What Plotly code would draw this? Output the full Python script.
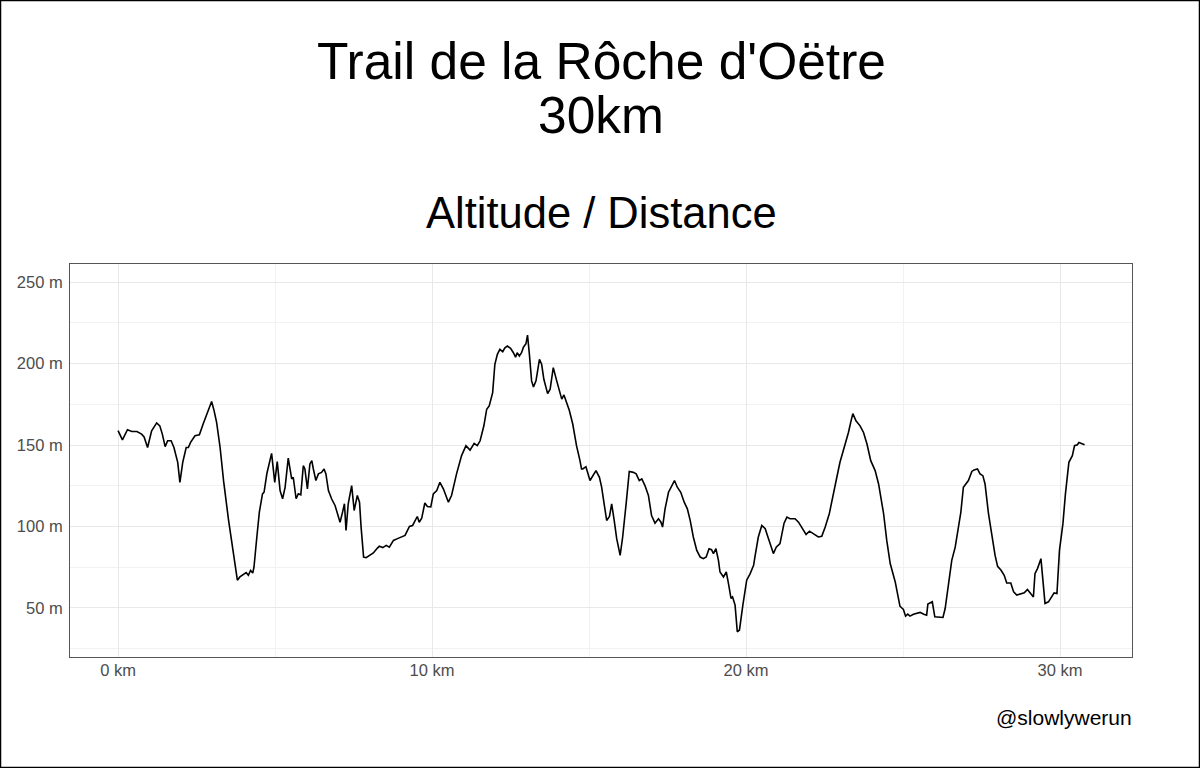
import plotly.graph_objects as go

distance_km = [
    0.00, 0.14, 0.30, 0.44, 0.60, 0.75, 0.83, 0.94, 1.07, 1.23, 1.33, 1.41, 1.50, 1.58, 1.69, 1.78,
    1.90, 1.97, 2.06, 2.17, 2.24, 2.31, 2.45, 2.59, 2.71, 2.84, 2.98, 3.06, 3.14, 3.25, 3.36, 3.52,
    3.65, 3.80, 3.88, 3.99, 4.08, 4.15, 4.22, 4.29, 4.33, 4.42, 4.50, 4.60, 4.65, 4.74, 4.82, 4.89,
    4.99, 5.07, 5.16, 5.24, 5.32, 5.42, 5.53, 5.58, 5.67, 5.74, 5.82, 5.90, 5.95, 6.03, 6.11, 6.17,
    6.22, 6.30, 6.38, 6.48, 6.56, 6.62, 6.70, 6.80, 6.91, 6.98, 7.07, 7.15, 7.21, 7.26, 7.33, 7.44,
    7.52, 7.62, 7.69, 7.74, 7.82, 7.90, 8.03, 8.13, 8.26, 8.32, 8.43, 8.54, 8.64, 8.77, 8.90, 9.03,
    9.14, 9.28, 9.38, 9.53, 9.59, 9.67, 9.77, 9.85, 9.96, 10.04, 10.15, 10.25, 10.36, 10.52, 10.62,
    10.78, 10.94, 11.08, 11.21, 11.34, 11.44, 11.53, 11.65, 11.74, 11.82, 11.93, 12.00, 12.08, 12.16,
    12.25, 12.32, 12.40, 12.50, 12.59, 12.66, 12.71, 12.78, 12.85, 12.91, 12.99, 13.04, 13.10, 13.17,
    13.23, 13.31, 13.42, 13.49, 13.56, 13.68, 13.76, 13.86, 13.97, 14.08, 14.13, 14.20, 14.29, 14.37,
    14.48, 14.60, 14.71, 14.76, 14.80, 14.90, 15.03, 15.13, 15.22, 15.33, 15.40, 15.48, 15.56, 15.65,
    15.72, 15.80, 15.88, 15.99, 16.07, 16.18, 16.28, 16.41, 16.50, 16.60, 16.68, 16.78, 16.89, 16.99,
    17.10, 17.21, 17.29, 17.34, 17.42, 17.53, 17.63, 17.72, 17.81, 17.92, 18.03, 18.13, 18.22, 18.32,
    18.43, 18.54, 18.64, 18.73, 18.82, 18.90, 18.96, 19.04, 19.12, 19.17, 19.28, 19.37, 19.44, 19.52,
    19.57, 19.65, 19.72, 19.79, 19.90, 20.02, 20.13, 20.24, 20.29, 20.39, 20.50, 20.61, 20.68, 20.79,
    20.87, 20.96, 21.08, 21.21, 21.30, 21.40, 21.56, 21.67, 21.80, 21.91, 22.02, 22.14, 22.30, 22.41,
    22.52, 22.65, 22.76, 22.89, 22.99, 23.12, 23.26, 23.33, 23.40, 23.50, 23.63, 23.74, 23.85, 23.97,
    24.11, 24.22, 24.38, 24.48, 24.59, 24.75, 24.82, 24.90, 25.01, 25.08, 25.15, 25.22, 25.33, 25.44,
    25.54, 25.66, 25.75, 25.79, 25.93, 26.01, 26.12, 26.27, 26.34, 26.44, 26.55, 26.66, 26.76, 26.84,
    26.92, 27.01, 27.08, 27.19, 27.26, 27.37, 27.45, 27.54, 27.61, 27.72, 27.83, 27.93, 28.01, 28.12,
    28.22, 28.30, 28.43, 28.52, 28.62, 28.75, 28.86, 28.96, 29.05, 29.15, 29.20, 29.28, 29.39, 29.45,
    29.52, 29.63, 29.74, 29.81, 29.90, 29.98, 30.09, 30.17, 30.28, 30.39, 30.46, 30.55, 30.60, 30.71,
    30.78,
]

altitude_m = [
    158.8, 153.2, 159.4, 158.3, 158.3, 156.7, 155.0, 148.5, 158.8, 163.6, 161.8, 156.7, 149.0, 152.6, 152.6, 148.5,
    139.4, 127.1, 139.4, 148.5, 148.5, 151.6, 155.7, 156.3, 162.9, 170.0, 176.7, 171.0, 163.8, 148.5, 128.1, 103.7,
    87.3, 67.0, 69.0, 70.4, 71.7, 70.0, 73.0, 71.4, 75.1, 93.5, 108.8, 120.0, 121.0, 132.5, 139.4, 144.9,
    127.1, 139.8, 122.0, 117.0, 124.0, 142.0, 129.2, 130.2, 117.0, 120.0, 119.4, 137.3, 135.3, 123.1, 138.4, 140.4,
    135.3, 128.2, 132.3, 133.2, 135.3, 132.3, 122.0, 117.0, 112.9, 108.8, 102.6, 108.8, 113.9, 97.5, 113.9, 125.1,
    109.8, 119.0, 114.9, 99.6, 81.2, 80.8, 82.2, 83.7, 86.7, 87.8, 87.0, 88.4, 87.3, 91.4, 92.5, 93.5,
    94.5, 100.0, 100.6, 106.1, 102.6, 105.0, 114.4, 112.2, 112.0, 120.0, 122.0, 127.1, 123.1, 114.9, 119.0,
    132.3, 143.5, 149.6, 146.9, 151.0, 149.6, 152.6, 161.8, 172.0, 174.0, 182.2, 199.6, 205.7, 208.8,
    207.3, 209.7, 210.8, 209.4, 206.7, 204.0, 206.7, 204.7, 206.7, 210.1, 212.2, 217.5, 205.7, 189.4,
    185.7, 189.4, 202.6, 199.6, 190.4, 181.6, 184.3, 197.5, 189.4, 181.2, 178.2, 180.8, 176.1, 171.4,
    162.9, 149.6, 140.4, 135.3, 135.3, 136.7, 128.2, 131.2, 134.3, 130.2, 124.1, 113.9, 103.7, 106.1,
    113.9, 103.7, 92.5, 82.2, 93.5, 113.9, 133.8, 133.2, 132.3, 128.2, 129.2, 125.1, 119.0, 106.7,
    102.0, 104.7, 102.6, 99.6, 110.8, 121.0, 125.1, 128.2, 124.1, 121.0, 114.9, 110.8, 103.7, 93.5,
    85.3, 81.2, 80.2, 81.2, 86.3, 85.7, 83.3, 86.3, 79.2, 72.0, 69.0, 72.0, 64.9, 55.8,
    56.7, 51.7, 35.3, 36.4, 52.0, 67.0, 71.0, 76.1, 82.2, 93.5, 100.6, 98.6, 94.5, 87.3,
    83.3, 87.3, 89.4, 102.0, 105.7, 104.7, 104.7, 102.6, 98.6, 95.1, 97.1, 95.5, 93.5, 93.9,
    99.6, 107.8, 119.0, 130.2, 139.4, 147.6, 157.7, 163.8, 169.3, 164.9, 161.8, 157.7, 150.6, 140.4,
    134.3, 126.1, 107.8, 91.4, 77.2, 65.9, 59.8, 51.0, 49.0, 44.9, 46.1, 44.9, 46.1, 46.6,
    47.2, 46.1, 45.5, 52.3, 53.7, 44.5, 44.5, 44.1, 49.6, 64.9, 79.2, 87.3, 100.6, 108.8,
    124.1, 126.1, 128.2, 133.8, 134.7, 135.3, 132.3, 131.2, 126.1, 107.8, 94.5, 82.2, 75.5, 73.1,
    70.0, 65.3, 65.3, 59.8, 57.8, 58.4, 59.2, 61.3, 59.2, 56.7, 71.0, 74.1, 80.2, 69.0,
    52.7, 53.7, 56.7, 59.2, 58.8, 85.3, 101.7, 120.0, 139.4, 143.5, 149.6, 150.2, 151.6, 151.0,
    150.2,
]

x_tick_vals = [0, 10, 20, 30]
x_tick_text = ["0 km", "10 km", "20 km", "30 km"]
y_tick_vals = [50, 100, 150, 200, 250]
y_tick_text = ["50 m", "100 m", "150 m", "200 m", "250 m"]

title_line1 = "Trail de la Rôche d'Oëtre"
title_line2 = "30km"
subtitle = "Altitude / Distance"
caption = "@slowlywerun"

W, H = 1200, 768
L, R, T, B = 70, 68, 264, 111
PH = H - T - B
PW = W - L - R


def py(v):
    return (H - B - v) / PH


def px(v):
    return (v - L) / PW


FONT = "Liberation Sans, Arial, Helvetica, sans-serif"

fig = go.Figure()
fig.add_trace(go.Scatter(
    x=distance_km, y=altitude_m, mode="lines",
    line=dict(color="black", width=1.6), hoverinfo="skip", showlegend=False,
))

grid_major = "#e8e8e8"
grid_minor = "#f2f2f2"

fig.update_layout(
    width=W, height=H,
    margin=dict(l=L, r=R, t=T, b=B, pad=0),
    paper_bgcolor="white", plot_bgcolor="white",
    font=dict(family=FONT, color="black"),
    showlegend=False,
    xaxis=dict(
        range=[-1.53, 32.29], tickvals=x_tick_vals, ticktext=x_tick_text,
        showgrid=True, gridcolor=grid_major, gridwidth=1,
        minor=dict(tickvals=[5, 15, 25], showgrid=True, gridcolor=grid_minor, gridwidth=1),
        zeroline=False, showline=True, linecolor="#555555", linewidth=1, mirror=True,
        ticks="outside", ticklen=0, tickcolor="rgba(0,0,0,0)", ticklabelstandoff=-2,
        tickfont=dict(size=16.5, color="#4d4d4d", family=FONT),
    ),
    yaxis=dict(
        range=[19.8, 261.2], tickvals=y_tick_vals, ticktext=y_tick_text,
        showgrid=True, gridcolor=grid_major, gridwidth=1,
        minor=dict(tickvals=[25, 75, 125, 175, 225], showgrid=True, gridcolor=grid_minor, gridwidth=1),
        zeroline=False, showline=True, linecolor="#555555", linewidth=1, mirror=True,
        ticks="outside", ticklen=3, tickcolor="rgba(0,0,0,0)",
        tickfont=dict(size=16.5, color="#4d4d4d", family=FONT),
    ),
    annotations=[
        dict(text=title_line1, x=px(601), y=py(61), xref="paper", yref="paper",
             xanchor="center", yanchor="middle", showarrow=False, font=dict(size=51.5, family=FONT)),
        dict(text=title_line2, x=px(601), y=py(115), xref="paper", yref="paper",
             xanchor="center", yanchor="middle", showarrow=False, font=dict(size=51.5, family=FONT)),
        dict(text=subtitle, x=px(601), y=py(213), xref="paper", yref="paper",
             xanchor="center", yanchor="middle", showarrow=False, font=dict(size=43.5, family=FONT)),
        dict(text=caption, x=px(1134), y=py(717), xref="paper", yref="paper",
             xanchor="right", yanchor="middle", showarrow=False, font=dict(size=21, family=FONT)),
    ],
    shapes=[
        dict(type="rect", xref="paper", yref="paper",
             x0=px(0.5), x1=px(W - 0.5), y0=py(H - 0.5), y1=py(0.5),
             line=dict(color="black", width=1.5), layer="above"),
    ],
)

fig.write_html(
    "out.html",
    config={"displayModeBar": False, "staticPlot": True},
    post_script="document.body.style.margin='0';document.body.style.overflow='hidden';",
)
